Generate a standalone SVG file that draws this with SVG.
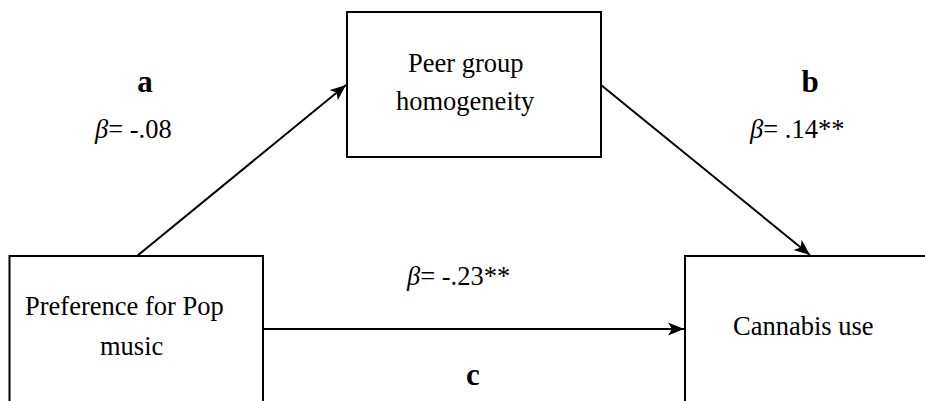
<svg xmlns="http://www.w3.org/2000/svg" width="925" height="401" viewBox="0 0 925 401">
<style>
  .box{fill:#fff;stroke:#000;stroke-width:2}
  .t{font-family:"Liberation Serif","Times New Roman",serif;font-size:26.5px;fill:#000}
  .b{font-weight:bold;text-anchor:middle;font-size:31px}
  .i{font-style:italic}
  .ln{stroke:#000;stroke-width:2;fill:none;marker-end:url(#ah)}
</style>
<defs>
  <marker id="ah" markerUnits="userSpaceOnUse" markerWidth="18" markerHeight="14" refX="16" refY="6.5" orient="auto" viewBox="0 0 18 14">
    <path d="M0,0 L16,6.5 L0,13 L4,6.5 Z" fill="#000"/>
  </marker>
</defs>
<rect width="925" height="401" fill="#fff"/>
<g id="node-pref">
  <rect class="box" x="9.5" y="256" width="253.5" height="160"/>
  <text class="t" x="25" y="315">Preference for Pop</text>
  <text class="t" x="100" y="355">music</text>
</g>
<g id="node-peer">
  <rect class="box" x="347" y="12" width="254" height="145"/>
  <text class="t" x="408" y="72">Peer group</text>
  <text class="t" x="396" y="110">homogeneity</text>
</g>
<g id="node-cannabis">
  <rect class="box" x="685" y="256" width="260" height="160"/>
  <text class="t" x="733" y="335">Cannabis use</text>
</g>
<g id="connectors">
  <line class="ln" x1="137" y1="256" x2="346" y2="85"/>
  <line class="ln" x1="601" y1="85" x2="810" y2="255"/>
  <line class="ln" x1="263" y1="329" x2="684" y2="329"/>
</g>
<g id="labels">
  <text class="t b" x="145" y="92">a</text>
  <text class="t" x="95" y="138"><tspan class="i">β</tspan>= -.08</text>
  <text class="t b" x="810" y="92">b</text>
  <text class="t" x="750" y="138"><tspan class="i">β</tspan>= .14**</text>
  <text class="t" x="407" y="285"><tspan class="i">β</tspan>= -.23**</text>
  <text class="t b" x="473" y="385">c</text>
</g>
</svg>
